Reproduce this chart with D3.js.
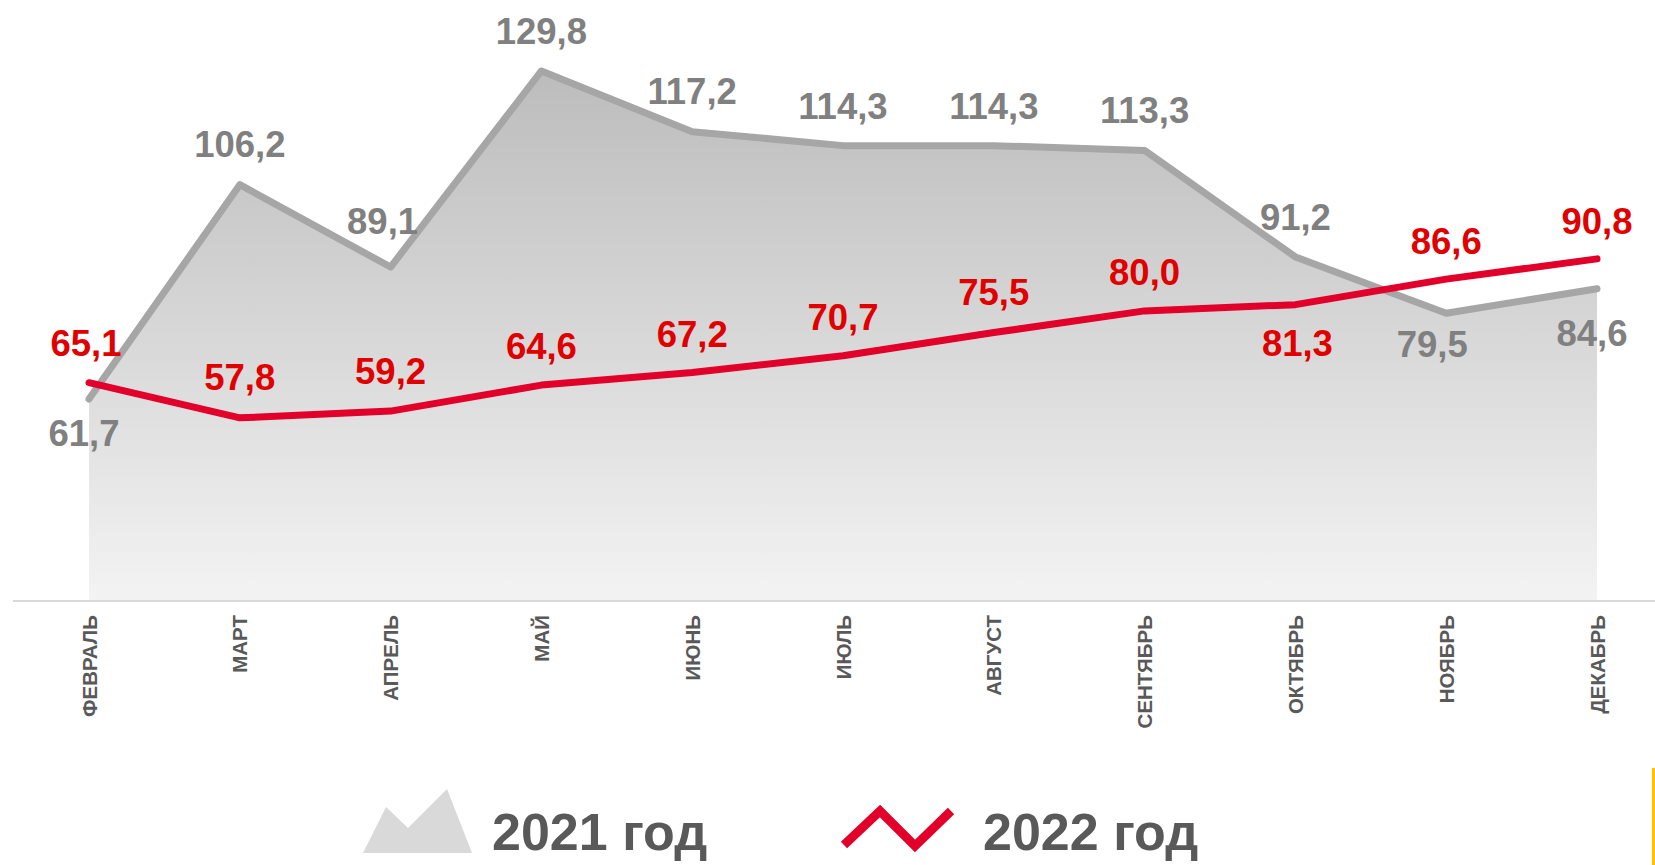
<!DOCTYPE html>
<html>
<head>
<meta charset="utf-8">
<script src="https://cdn.jsdelivr.net/npm/d3@7"></script>
<style>
  html, body { margin: 0; padding: 0; background: #fff; }
  svg { display: block; font-family: "Liberation Sans", Arial, sans-serif; }
</style>
</head>
<body>
<svg id="chart" width="1655" height="865"></svg>
<script>
// ---- data ----
const months = ["ФЕВРАЛЬ","МАРТ","АПРЕЛЬ","МАЙ","ИЮНЬ","ИЮЛЬ","АВГУСТ","СЕНТЯБРЬ","ОКТЯБРЬ","НОЯБРЬ","ДЕКАБРЬ"];
const values2021 = [61.7, 106.2, 89.1, 129.8, 117.2, 114.3, 114.3, 113.3, 91.2, 79.5, 84.6];
const values2022 = [65.1, 57.8, 59.2, 64.6, 67.2, 70.7, 75.5, 80.0, 81.3, 86.6, 90.8];
const seriesNames = ["2021 год", "2022 год"];

// ---- label placement (layout, not data) ----
const labelDy2021 = [34, -41, -46, -40, -41, -40, -40, -41, -40, 31, 44];
const labelDx2021 = [-5, 0, -8, 0, 0, 0, 0, 0, 0, -14, -5];
const labelDy2022 = [-40, -41, -40, -39, -39, -39, -41, -39, 38, -38, -38];
const labelDx2022 = [-3, 0, 0, 0, 0, 0, 0, 0, 2, 0, 0];

const svg = d3.select("#chart");
const fmt = v => d3.format(".1f")(v).replace(".", ",");

const x = d3.scalePoint().domain(months).range([89, 1597]);
const y = d3.scaleLinear().domain([20, 140]).range([600, 21.8]);

// gradient
const defs = svg.append("defs");
const grad = defs.append("linearGradient").attr("id", "areaGrad")
  .attr("gradientUnits", "userSpaceOnUse")
  .attr("x1", 0).attr("x2", 0).attr("y1", y(130)).attr("y2", y(20));
grad.append("stop").attr("offset", "0%").attr("stop-color", "#bcbcbc");
grad.append("stop").attr("offset", "100%").attr("stop-color", "#f3f3f3");

const d21 = months.map((m, i) => ({m, v: values2021[i], i}));
const d22 = months.map((m, i) => ({m, v: values2022[i], i}));

// area
const area = d3.area().x(d => x(d.m)).y0(y(20)).y1(d => y(d.v));
svg.append("path").datum(d21).attr("d", area).attr("fill", "url(#areaGrad)");

// axis line
svg.append("line").attr("x1", 13).attr("x2", 1655).attr("y1", y(20) + 1).attr("y2", y(20) + 1)
  .attr("stroke", "#d9d9d9").attr("stroke-width", 2);

// axis labels
const xAxis = d3.axisBottom(x).tickSize(0).tickPadding(0);
const gx = svg.append("g").attr("transform", `translate(0,${y(20)})`).call(xAxis);
gx.select(".domain").remove();
gx.selectAll(".tick text")
  .attr("transform", "rotate(-90)")
  .attr("x", -15).attr("y", 0).attr("dy", "0.35em")
  .attr("text-anchor", "end")
  .attr("fill", "#595959")
  .attr("font-size", 20.5).attr("font-weight", "bold")
  .attr("font-family", "'Liberation Sans', Arial, sans-serif");

// 2021 line
const line = d3.line().x(d => x(d.m)).y(d => y(d.v));
svg.append("path").datum(d21).attr("d", line)
  .attr("fill", "none").attr("stroke", "#a6a6a6").attr("stroke-width", 7)
  .attr("stroke-linejoin", "round").attr("stroke-linecap", "round");

// 2022 line
svg.append("path").datum(d22).attr("d", line)
  .attr("fill", "none").attr("stroke", "#e2002b").attr("stroke-width", 7)
  .attr("stroke-linejoin", "round").attr("stroke-linecap", "round");

// labels
const fs = 36.5;
svg.append("g").selectAll("text").data(d21).join("text")
  .attr("x", d => x(d.m) + labelDx2021[d.i])
  .attr("y", d => y(d.v) + labelDy2021[d.i] + fs * 0.358)
  .attr("text-anchor", "middle").attr("font-size", fs).attr("font-weight", "bold")
  .attr("fill", "#808080").text(d => fmt(d.v));

svg.append("g").selectAll("text").data(d22).join("text")
  .attr("x", d => x(d.m) + labelDx2022[d.i])
  .attr("y", d => y(d.v) + labelDy2022[d.i] + fs * 0.358)
  .attr("text-anchor", "middle").attr("font-size", fs).attr("font-weight", "bold")
  .attr("fill", "#e00000").text(d => fmt(d.v));

// legend
const lg = svg.append("g");
lg.append("path")
  .attr("d", d3.line()([[363, 853], [386, 807], [408, 828], [447, 789], [472, 853]]) + "Z")
  .attr("fill", "#d9d9d9");
lg.append("text").attr("x", 492).attr("y", 850).attr("font-size", 52).attr("font-weight", "bold")
  .attr("fill", "#595959").text(seriesNames[0]);
lg.append("path")
  .attr("d", d3.line()([[844, 845], [880, 811], [915, 846], [951, 811]]))
  .attr("fill", "none").attr("stroke", "#e2002b").attr("stroke-width", 9);
lg.append("text").attr("x", 983).attr("y", 850).attr("font-size", 52).attr("font-weight", "bold")
  .attr("fill", "#595959").text(seriesNames[1]);

// yellow edge mark
svg.append("rect").attr("x", 1652).attr("y", 768).attr("width", 3).attr("height", 97).attr("fill", "#ffc000");
</script>
</body>
</html>
